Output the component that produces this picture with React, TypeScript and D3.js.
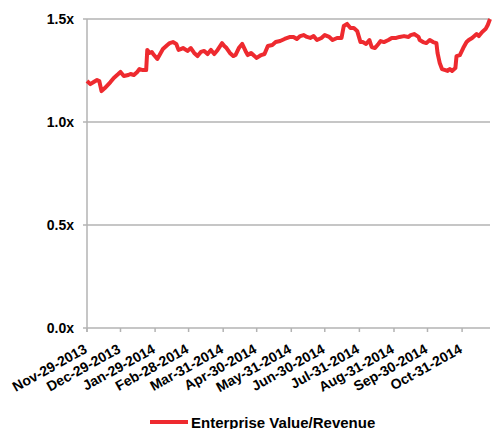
import React, { useEffect, useRef } from "react";
import * as d3 from "d3";

const dates: string[] = [
  "2013-11-29","2013-12-02","2013-12-05","2013-12-08","2013-12-10","2013-12-12","2013-12-15","2013-12-20","2013-12-23","2013-12-27",
  "2013-12-29","2014-01-01","2014-01-05","2014-01-07","2014-01-10","2014-01-13","2014-01-15","2014-01-18","2014-01-21","2014-01-22",
  "2014-01-24","2014-01-26","2014-01-28","2014-01-31","2014-02-02","2014-02-05","2014-02-09","2014-02-11","2014-02-14","2014-02-17",
  "2014-02-19","2014-02-21","2014-02-23","2014-02-27","2014-03-02","2014-03-05","2014-03-08","2014-03-11","2014-03-14","2014-03-17",
  "2014-03-20","2014-03-23","2014-03-26","2014-03-30","2014-04-01","2014-04-03","2014-04-06","2014-04-09","2014-04-11","2014-04-14",
  "2014-04-17","2014-04-20","2014-04-22","2014-04-25","2014-04-28","2014-04-30","2014-05-04","2014-05-07","2014-05-10","2014-05-14",
  "2014-05-17","2014-05-21","2014-05-25","2014-05-30","2014-06-02","2014-06-05","2014-06-08","2014-06-11","2014-06-14","2014-06-17",
  "2014-06-20","2014-06-23","2014-06-27","2014-06-30","2014-07-04","2014-07-07","2014-07-11","2014-07-15","2014-07-17","2014-07-20",
  "2014-07-23","2014-07-26","2014-07-29","2014-08-01","2014-08-03","2014-08-06","2014-08-09","2014-08-11","2014-08-14","2014-08-17",
  "2014-08-19","2014-08-22","2014-08-26","2014-08-29","2014-09-02","2014-09-05","2014-09-09","2014-09-13","2014-09-15","2014-09-18",
  "2014-09-22","2014-09-23","2014-09-26","2014-09-29","2014-10-02","2014-10-05","2014-10-08","2014-10-09","2014-10-11","2014-10-13",
  "2014-10-16","2014-10-18","2014-10-20","2014-10-22","2014-10-25","2014-10-26","2014-10-29","2014-11-01","2014-11-04","2014-11-06",
  "2014-11-09","2014-11-13","2014-11-15","2014-11-18","2014-11-21","2014-11-23","2014-11-25",
];

const evRevenue: number[] = [
  1.199,1.184,1.194,1.204,1.199,1.150,1.165,1.194,1.214,1.233,
  1.243,1.223,1.228,1.233,1.228,1.243,1.257,1.252,1.252,1.350,
  1.335,1.340,1.325,1.306,1.325,1.354,1.374,1.383,1.388,1.379,
  1.350,1.354,1.359,1.345,1.359,1.335,1.320,1.340,1.345,1.330,
  1.350,1.330,1.350,1.383,1.369,1.359,1.335,1.320,1.325,1.359,
  1.379,1.345,1.325,1.335,1.320,1.311,1.325,1.330,1.369,1.374,
  1.388,1.393,1.403,1.413,1.413,1.403,1.417,1.422,1.413,1.408,
  1.417,1.398,1.408,1.422,1.413,1.398,1.408,1.408,1.466,1.476,
  1.456,1.456,1.442,1.388,1.388,1.379,1.398,1.364,1.359,1.379,
  1.393,1.388,1.398,1.408,1.408,1.413,1.417,1.413,1.422,1.427,
  1.413,1.398,1.388,1.383,1.398,1.388,1.383,1.335,1.286,1.257,
  1.252,1.248,1.257,1.248,1.262,1.320,1.325,1.359,1.388,1.398,
  1.408,1.427,1.417,1.437,1.451,1.471,1.500,
];

const xTickDates: string[] = [
  "2013-11-29","2013-12-29","2014-01-29","2014-02-28","2014-03-31","2014-04-30",
  "2014-05-31","2014-06-30","2014-07-31","2014-08-31","2014-09-30","2014-10-31",
];
const xTickLabels: string[] = [
  "Nov-29-2013","Dec-29-2013","Jan-29-2014","Feb-28-2014","Mar-31-2014","Apr-30-2014",
  "May-31-2014","Jun-30-2014","Jul-31-2014","Aug-31-2014","Sep-30-2014","Oct-31-2014",
];
const yTicks: number[] = [0, 0.5, 1.0, 1.5];
const seriesName = "Enterprise Value/Revenue";

const W = 492;
const H = 429;
const M = { left: 87, right: 2, top: 19, bottom: 101 };
const RED = "#ee2a2f";
const GRID = "#b3b3b3";
const FONT = "Liberation Sans, Arial, sans-serif";

export default function App() {
  const ref = useRef<SVGSVGElement | null>(null);

  useEffect(() => {
    const svg = d3.select(ref.current);
    svg.selectAll("*").remove();
    const parse = d3.timeParse("%Y-%m-%d");
    const data = dates.map((d, i) => ({ date: parse(d) as Date, v: evRevenue[i] }));
    const tickDates = xTickDates.map((d) => parse(d) as Date);

    const x = d3
      .scaleTime()
      .domain([tickDates[0], parse("2014-11-25") as Date])
      .range([M.left, W - M.right]);
    const y = d3.scaleLinear().domain([0, 1.5]).range([H - M.bottom, M.top]);

    const g = svg.append("g");

    // gridlines
    g.selectAll("line.grid")
      .data(yTicks)
      .enter()
      .append("line")
      .attr("x1", M.left - 4)
      .attr("x2", W - M.right)
      .attr("y1", (d) => y(d))
      .attr("y2", (d) => y(d))
      .attr("stroke", GRID)
      .attr("stroke-width", 1.5);

    // y axis line
    g.append("line")
      .attr("x1", M.left)
      .attr("x2", M.left)
      .attr("y1", M.top)
      .attr("y2", y(0) + 4)
      .attr("stroke", GRID)
      .attr("stroke-width", 1.5);

    // x ticks
    g.selectAll("line.xt")
      .data(tickDates)
      .enter()
      .append("line")
      .attr("x1", (d) => x(d))
      .attr("x2", (d) => x(d))
      .attr("y1", y(0))
      .attr("y2", y(0) + 4)
      .attr("stroke", GRID)
      .attr("stroke-width", 1.5);

    // y labels
    g.selectAll("text.yl")
      .data(yTicks)
      .enter()
      .append("text")
      .attr("x", M.left - 13)
      .attr("y", (d) => y(d) + 5)
      .attr("text-anchor", "end")
      .attr("font-family", FONT)
      .attr("font-weight", "bold")
      .attr("font-size", 14)
      .attr("fill", "#000")
      .text((d) => d.toFixed(1) + "x");

    // x labels
    g.selectAll("text.xl")
      .data(tickDates)
      .enter()
      .append("text")
      .attr("transform", (d) => `translate(${x(d) + 1},${y(0) + 24}) rotate(-29)`)
      .attr("text-anchor", "end")
      .attr("font-family", FONT)
      .attr("font-weight", "bold")
      .attr("font-size", 14)
      .attr("fill", "#000")
      .text((_, i) => xTickLabels[i]);

    // line
    const line = d3
      .line<{ date: Date; v: number }>()
      .x((d) => x(d.date))
      .y((d) => y(d.v));
    g.append("path")
      .datum(data)
      .attr("d", line)
      .attr("fill", "none")
      .attr("stroke", RED)
      .attr("stroke-width", 4)
      .attr("stroke-linejoin", "round");

    // legend
    g.append("line")
      .attr("x1", 150)
      .attr("x2", 188)
      .attr("y1", 422)
      .attr("y2", 422)
      .attr("stroke", RED)
      .attr("stroke-width", 4);
    g.append("text")
      .attr("x", 191)
      .attr("y", 427.5)
      .attr("font-family", FONT)
      .attr("font-weight", "bold")
      .attr("font-size", 15)
      .attr("fill", "#000")
      .text(seriesName);
  }, []);

  return (
    <svg
      ref={ref}
      width={W}
      height={H}
      style={{ position: "absolute", left: 0, top: 0, background: "#fff" }}
    />
  );
}
